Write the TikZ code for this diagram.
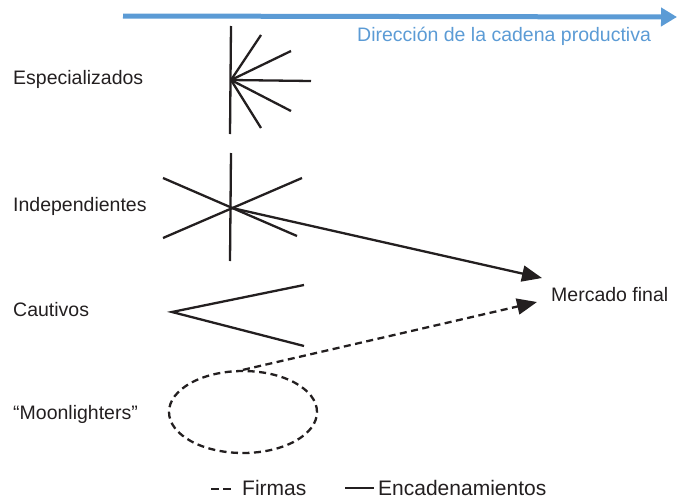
\documentclass[tikz,border=0pt]{standalone}
\usepackage{fontspec}
\setmainfont{Liberation Sans}
\usetikzlibrary{arrows.meta,shapes.geometric}
\definecolor{ink}{HTML}{231F20}
\definecolor{chainblue}{HTML}{5B9BD5}
\tikzset{
  lbl/.style={anchor=base west, inner sep=0pt, text=ink, font=\fontsize{19.5}{23}\selectfont},
  leg/.style={anchor=base west, inner sep=0pt, text=ink, font=\fontsize{21}{25}\selectfont},
  ray/.style={draw=ink, line width=2.3pt},
  link/.style={draw=ink, line width=2.3pt, -{Triangle[length=20pt,width=16pt]}},
  firm/.style={draw=ink, line width=2.3pt, dash pattern=on 7pt off 4.5pt},
}
\begin{document}
\begin{tikzpicture}[x=1pt,y=-1pt]
\useasboundingbox (0,0) rectangle (677,498);
% direction arrow
\coordinate (b0) at (123,16);
\coordinate (b1) at (677,17);
\draw[chainblue, line width=5pt, -{Triangle[length=16pt,width=18pt]}] (b0) -- (b1);
\node[lbl, text=chainblue] (dir) at (357,41) {Dirección de la cadena productiva};
% labels
\node[lbl] (esp) at (13,84) {Especializados};
\node[lbl] (ind) at (13,211) {Independientes};
\node[lbl] (cau) at (13,316) {Cautivos};
\node[lbl] (moo) at (13,419) {“Moonlighters”};
\node[lbl] (mer) at (551,301) {Mercado final};
% especializados
\coordinate (e0) at (231,80);
\coordinate (eT) at (231,26);
\coordinate (eB) at (230,134);
\coordinate (e1) at (261,35);
\coordinate (e2) at (291,51);
\coordinate (e3) at (311,81);
\coordinate (e4) at (291,111);
\coordinate (e5) at (261,128);
\draw[ray] (eT) -- (eB);
\foreach \p in {e1,e2,e3,e4,e5} \draw[ray] (e0) -- (\p);
% independientes
\coordinate (i0) at (232,208);
\coordinate (iT) at (231,153);
\coordinate (iB) at (230,261);
\coordinate (i1) at (163,178);
\coordinate (i2) at (297,236);
\coordinate (i3) at (163,238);
\coordinate (i4) at (302,178);
\draw[ray] (iT) -- (iB);
\draw[ray] (i1) -- (i2);
\draw[ray] (i3) -- (i4);
\coordinate (m1) at (542,278);
\draw[link] (i0) -- (m1);
% cautivos
\coordinate (c0) at (172,312);
\coordinate (c1) at (304,285);
\coordinate (c2) at (304,346);
\draw[ray] (c1) -- (c0) -- (c2);
% moonlighters
\node[draw=ink, line width=2.3pt, dash pattern=on 7pt off 4.5pt, ellipse, minimum width=148pt, minimum height=82pt, inner sep=0pt] (ell) at (243,412) {};
\coordinate (m2) at (537,302);
\draw[firm, -{Triangle[length=20pt,width=16pt]}] (ell.north) -- (m2);
% legend
\coordinate (l0) at (211,489);
\coordinate (l1) at (233,489);
\coordinate (l2) at (345,488);
\coordinate (l3) at (374,488);
\draw[draw=ink, line width=2.3pt, dash pattern=on 8pt off 4pt] (l0) -- (l1);
\draw[ray] (l2) -- (l3);
\node[leg] (fir) at (242,495) {Firmas};
\node[leg] (enc) at (378,495) {Encadenamientos};
\end{tikzpicture}
\end{document}
